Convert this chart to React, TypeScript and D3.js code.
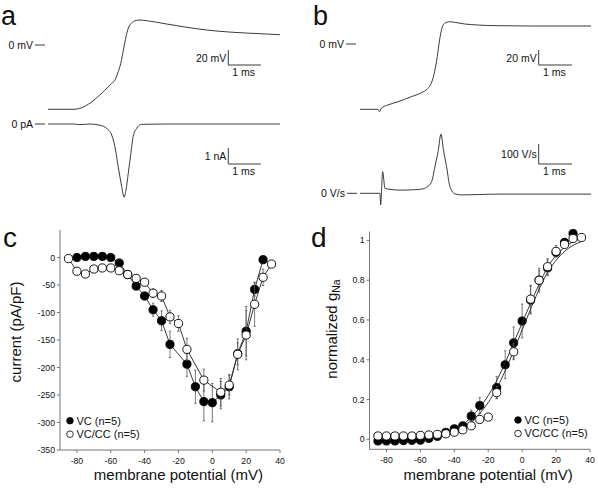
import React from 'react';
import * as d3 from 'd3';

// ---------- Panel a : voltage-clamp with AP waveform ----------
const aVoltT = [0, 0.8, 1.96, 2.06, 2.16, 2.24, 2.32, 2.4, 2.47, 2.58, 2.68, 2.83, 3.04, 3.65, 4.27, 4.88, 5.7, 6.52, 7.14];
const aVoltV = [-85.7, -85.7, -51.1, -46.7, -35.6, -24.4, -6.7, 11.1, 22.3, 29.7, 32.4, 33.3, 32.4, 28, 23.6, 20, 16.9, 15.1, 13.7];
const aCurT = [0, 0.78, 0.98, 1.29, 1.6, 1.8, 1.96, 2.06, 2.16, 2.27, 2.34, 2.4, 2.47, 2.55, 2.62, 2.73, 2.88, 3.65, 7.14];
const aCurI = [0, 0, -0.04, 0, -0.08, -0.27, -0.69, -1.42, -2.67, -3.92, -4.58, -4.13, -3.08, -1.83, -0.79, -0.27, -0.02, 0, 0];

// ---------- Panel b : current-clamp AP and dV/dt ----------
const bVoltT = [0, 0.54, 0.59, 0.64, 0.84, 1.14, 1.54, 1.84, 2.04, 2.14, 2.24, 2.32, 2.39, 2.46, 2.54, 2.69, 2.84, 3.14, 3.54, 4.14, 5.14, 6.94];
const bVoltV = [-87.1, -87.1, -90.3, -85.7, -81.3, -77, -70.3, -65, -59.1, -52.4, -36.9, -16.9, 5.3, 21, 27.6, 29.7, 28.9, 26.7, 25.3, 24.4, 24, 24];
const bDvT = [0, 0.6, 0.62, 0.68, 0.75, 0.9, 1.2, 1.65, 1.85, 2.0, 2.15, 2.25, 2.35, 2.43, 2.51, 2.6, 2.7, 2.85, 3.05, 3.6, 4.2, 6.94];
const bDvV = [0, 0, -58, 108, 25, 20, 16, 18, 21, 30, 58, 133, 213, 296, 213, 133, 33, -3, -8, -6, -4, -4];

// ---------- Panel c : I-V ----------
const cVcX = [-80, -75, -70, -65, -60, -55, -50, -45, -40, -35, -30, -25, -15, -10, -5, 0, 5, 10, 15, 20, 25, 30];
const cVcY = [0, 2, 2, 2, 0, -10, -31, -52, -70, -95, -115, -158, -194, -235, -262, -264, -250, -235, -175, -134, -58, -4];
const cVcE = [0, 0, 0, 0, 0, 3, 4, 6, 7, 12, 18, 24, 22, 30, 35, 35, 25, 22, 20, 45, 12, 3];
const cCcX = [-85, -80, -75, -70, -65, -60, -55, -50, -45, -40, -35, -30, -25, -20, -15, -5, 5, 10, 15, 20, 25, 30, 35];
const cCcY = [-2, -25, -30, -21, -19, -19, -24, -31, -38, -45, -65, -70, -108, -120, -167, -223, -245, -232, -176, -141, -85, -36, -12];
const cCcE = [0, 3, 3, 3, 3, 3, 4, 4, 5, 6, 8, 10, 12, 14, 20, 20, 25, 18, 28, 45, 40, 15, 5];
const cXTicks = [-80, -60, -40, -20, 0, 20, 40];
const cYTicks = [0, -50, -100, -150, -200, -250, -300, -350];

// ---------- Panel d : activation ----------
const dVcX = [-85, -80, -75, -70, -65, -60, -55, -50, -45, -40, -35, -30, -25, -15, -10, -5, 0, 5, 10, 15, 20, 25, 30];
const dVcY = [-0.008, -0.008, -0.008, -0.006, -0.005, -0.004, 0.005, 0.015, 0.035, 0.053, 0.068, 0.117, 0.17, 0.26, 0.375, 0.485, 0.595, 0.7, 0.8, 0.862, 0.94, 0.99, 1.035];
const dVcE = [0, 0, 0, 0, 0, 0, 0, 0, 0.005, 0.008, 0.01, 0.03, 0.04, 0.055, 0.07, 0.08, 0.085, 0.07, 0.05, 0.04, 0.02, 0.01, 0.01];
const dCcX = [-85, -80, -75, -70, -65, -60, -55, -50, -45, -40, -35, -30, -25, -20, -15, -5, 5, 10, 15, 20, 25, 30, 35];
const dCcY = [0.017, 0.017, 0.017, 0.017, 0.017, 0.02, 0.022, 0.025, 0.028, 0.036, 0.048, 0.068, 0.1, 0.112, 0.235, 0.44, 0.705, 0.8, 0.868, 0.945, 0.98, 1.01, 1.015];
const dCcE = [0, 0, 0, 0, 0, 0, 0, 0, 0, 0, 0, 0, 0, 0, 0.03, 0.04, 0.07, 0.06, 0.04, 0.03, 0.01, 0.01, 0];
const dFitX = [-85, -70, -60, -50, -40, -35, -30, -25, -20, -15, -10, -5, 0, 5, 10, 15, 20, 25, 30, 35];
const dFitVc = [0.002, 0.005, 0.01, 0.022, 0.05, 0.075, 0.11, 0.16, 0.22, 0.295, 0.385, 0.485, 0.585, 0.685, 0.78, 0.865, 0.925, 0.965, 0.993, 1.01];
const dFitCc = [0.001, 0.003, 0.006, 0.014, 0.035, 0.055, 0.085, 0.13, 0.185, 0.255, 0.345, 0.445, 0.55, 0.655, 0.755, 0.84, 0.9, 0.945, 0.975, 0.995];
const dXTicks = [-80, -60, -40, -20, 0, 20, 40];
const dYTicks = [0, 0.2, 0.4, 0.6, 0.8, 1];

const FONT = "'Liberation Sans', Arial, Helvetica, sans-serif";
const TRACE = '#3a3a3a';
const AXIS = '#777';

function tracePath(ts: number[], vs: number[], sx: d3.ScaleLinear<number, number>, sy: d3.ScaleLinear<number, number>) {
  const pts: [number, number][] = ts.map((t, i) => [t, vs[i]]);
  return d3.line<[number, number]>().x(d => sx(d[0])).y(d => sy(d[1])).curve(d3.curveMonotoneX)(pts) || '';
}

function ScaleBar({ x, y, w, h, label, tlabel }: { x: number; y: number; w: number; h: number; label: string; tlabel: string }) {
  return (
    <g>
      <path d={`M${x},${y - h}V${y}H${x + w}`} fill="none" stroke={TRACE} strokeWidth={1} />
      <text x={x - 2} y={y - h / 2 + 4} textAnchor="end" fontSize={10.5}>{label}</text>
      <text x={x + w / 2 - 1} y={y + 11} textAnchor="middle" fontSize={10.5}>{tlabel}</text>
    </g>
  );
}

function ZeroMark({ x, y, label }: { x: number; y: number; label: string }) {
  return (
    <g>
      <text x={x - 2} y={y + 3.5} textAnchor="end" fontSize={10.5}>{label}</text>
      <line x1={x} x2={x + 10} y1={y} y2={y} stroke={TRACE} strokeWidth={1} />
    </g>
  );
}

function Points({ xs, ys, es, sx, sy, filled, withLine }: {
  xs: number[]; ys: number[]; es: number[]; sx: d3.ScaleLinear<number, number>; sy: d3.ScaleLinear<number, number>; filled: boolean; withLine: boolean;
}) {
  const pts: [number, number][] = xs.map((x, i) => [x, ys[i]]);
  const line = d3.line<[number, number]>().x(d => sx(d[0])).y(d => sy(d[1]))(pts) || '';
  return (
    <g>
      {withLine && <path d={line} fill="none" stroke="#222" strokeWidth={0.9} />}
      {xs.map((x, i) => es[i] > 0 ? (
        <g key={'e' + i} stroke="#555" strokeWidth={0.8}>
          <line x1={sx(x)} x2={sx(x)} y1={sy(ys[i] - es[i])} y2={sy(ys[i] + es[i])} />
          <line x1={sx(x) - 1.2} x2={sx(x) + 1.2} y1={sy(ys[i] - es[i])} y2={sy(ys[i] - es[i])} />
          <line x1={sx(x) - 1.2} x2={sx(x) + 1.2} y1={sy(ys[i] + es[i])} y2={sy(ys[i] + es[i])} />
        </g>
      ) : null)}
      {xs.map((x, i) => (
        <circle key={'c' + i} cx={sx(x)} cy={sy(ys[i])} r={4.1} fill={filled ? '#000' : '#fff'} stroke="#000" strokeWidth={0.9} />
      ))}
    </g>
  );
}

function Axes({ sx, sy, xTicks, yTicks, yFmt }: {
  sx: d3.ScaleLinear<number, number>; sy: d3.ScaleLinear<number, number>; xTicks: number[]; yTicks: number[]; yFmt: (v: number) => string;
}) {
  const [x0, x1] = sx.range();
  const [y0, y1] = sy.range();
  return (
    <g>
      <path d={`M${x0},${y1}V${y0}H${x1}`} fill="none" stroke={AXIS} strokeWidth={1} />
      {yTicks.map(t => (
        <g key={'y' + t}>
          <line x1={x0 - 3} x2={x0} y1={sy(t)} y2={sy(t)} stroke={AXIS} />
          <text x={x0 - 5} y={sy(t) + 3} textAnchor="end" fontSize={8.7}>{yFmt(t)}</text>
        </g>
      ))}
      {xTicks.map(t => (
        <g key={'x' + t}>
          <line x1={sx(t)} x2={sx(t)} y1={y0} y2={y0 + 3} stroke={AXIS} />
          <text x={sx(t)} y={y0 + 14} textAnchor="middle" fontSize={8.7}>{String(t)}</text>
        </g>
      ))}
    </g>
  );
}

function Legend({ x, y }: { x: number; y: number }) {
  return (
    <g fontSize={11}>
      <circle cx={x} cy={y} r={3.3} fill="#000" stroke="#000" strokeWidth={0.8} />
      <text x={x + 6.5} y={y + 3.8}>VC (n=5)</text>
      <circle cx={x} cy={y + 13.5} r={3.3} fill="#fff" stroke="#000" strokeWidth={0.8} />
      <text x={x + 6.5} y={y + 17.3}>VC/CC (n=5)</text>
    </g>
  );
}

export default function App() {
  // panel a scales
  const aT = d3.scaleLinear().domain([0, 1]).range([48, 80.5]);
  const aV = d3.scaleLinear().domain([0, 20]).range([45, 30]);
  const aI = d3.scaleLinear().domain([0, 1]).range([124, 108]);
  // panel b scales
  const bT = d3.scaleLinear().domain([0, 1]).range([360, 393.3]);
  const bV = d3.scaleLinear().domain([0, 20]).range([44, 29]);
  const bD = d3.scaleLinear().domain([0, 100]).range([193.3, 173.3]);
  // panel c scales
  const cX = d3.scaleLinear().domain([-90, 40]).range([60, 280]);
  const cY = d3.scaleLinear().domain([-350, 50]).range([450, 230]);
  // panel d scales
  const dX = d3.scaleLinear().domain([-90, 40]).range([369.5, 590]);
  const dY = d3.scaleLinear().domain([-0.05, 1.045]).range([449.3, 231.5]);

  const fitLine = (ys: number[]) => {
    const pts: [number, number][] = dFitX.map((x, i) => [x, ys[i]]);
    return d3.line<[number, number]>().x(d => dX(d[0])).y(d => dY(d[1])).curve(d3.curveMonotoneX)(pts) || '';
  };

  return (
    <svg width={598} height={490} viewBox="0 0 598 490" style={{ position: 'absolute', left: 0, top: 0, background: '#fff' }} fontFamily={FONT} fill="#111">
      <rect x={0} y={0} width={598} height={490} fill="#fff" />
      {/* panel letters */}
      <text x={1} y={24.5} fontSize={27}>a</text>
      <text x={313} y={24.5} fontSize={27}>b</text>
      <text x={3} y={247} fontSize={28}>c</text>
      <text x={311} y={247} fontSize={28}>d</text>

      {/* panel a */}
      <ZeroMark x={35} y={aV(0)} label="0 mV" />
      <path d={tracePath(aVoltT, aVoltV, aT, aV)} fill="none" stroke={TRACE} strokeWidth={1} />
      <ScaleBar x={228.3} y={65} w={aT(1) - aT(0)} h={aV(0) - aV(20)} label="20 mV" tlabel="1 ms" />
      <ZeroMark x={35} y={aI(0)} label="0 pA" />
      <path d={tracePath(aCurT, aCurI, aT, aI)} fill="none" stroke={TRACE} strokeWidth={1} />
      <ScaleBar x={228.3} y={164} w={aT(1) - aT(0)} h={aI(0) - aI(1)} label="1 nA" tlabel="1 ms" />

      {/* panel b */}
      <ZeroMark x={346} y={bV(0)} label="0 mV" />
      <path d={tracePath(bVoltT, bVoltV, bT, bV)} fill="none" stroke={TRACE} strokeWidth={1} />
      <ScaleBar x={538.7} y={65} w={bT(1) - bT(0)} h={bV(0) - bV(20)} label="20 mV" tlabel="1 ms" />
      <ZeroMark x={347} y={bD(0)} label="0 V/s" />
      <path d={tracePath(bDvT, bDvV, bT, bD)} fill="none" stroke={TRACE} strokeWidth={1} />
      <ScaleBar x={538.7} y={164} w={bT(1) - bT(0)} h={bD(0) - bD(100)} label="100 V/s" tlabel="1 ms" />

      {/* panel c */}
      <Axes sx={cX} sy={cY} xTicks={cXTicks} yTicks={cYTicks} yFmt={v => String(v)} />
      <Points xs={cVcX} ys={cVcY} es={cVcE} sx={cX} sy={cY} filled={true} withLine={true} />
      <Points xs={cCcX} ys={cCcY} es={cCcE} sx={cX} sy={cY} filled={false} withLine={true} />
      <Legend x={70} y={420.7} />
      <text transform="translate(21,332) rotate(-90)" textAnchor="middle" fontSize={15}>current (pA/pF)</text>
      <text x={cX(-20)} y={480} textAnchor="middle" fontSize={15}>membrane potential (mV)</text>

      {/* panel d */}
      <Axes sx={dX} sy={dY} xTicks={dXTicks} yTicks={dYTicks} yFmt={v => (v === 0 || v === 1 ? String(v) : v.toFixed(1))} />
      <Points xs={dVcX} ys={dVcY} es={dVcE} sx={dX} sy={dY} filled={true} withLine={false} />
      <path d={fitLine(dFitVc)} fill="none" stroke="#222" strokeWidth={0.9} />
      <path d={fitLine(dFitCc)} fill="none" stroke="#222" strokeWidth={0.9} />
      <Points xs={dCcX} ys={dCcY} es={dCcE} sx={dX} sy={dY} filled={false} withLine={false} />
      <Legend x={518} y={420} />
      <text transform="translate(337,329) rotate(-90)" textAnchor="middle" fontSize={15}>
        normalized g<tspan fontSize={10.5} dy={3}>Na</tspan>
      </text>
      <text x={dX(-20)} y={480} textAnchor="middle" fontSize={15}>membrane potential (mV)</text>
    </svg>
  );
}
